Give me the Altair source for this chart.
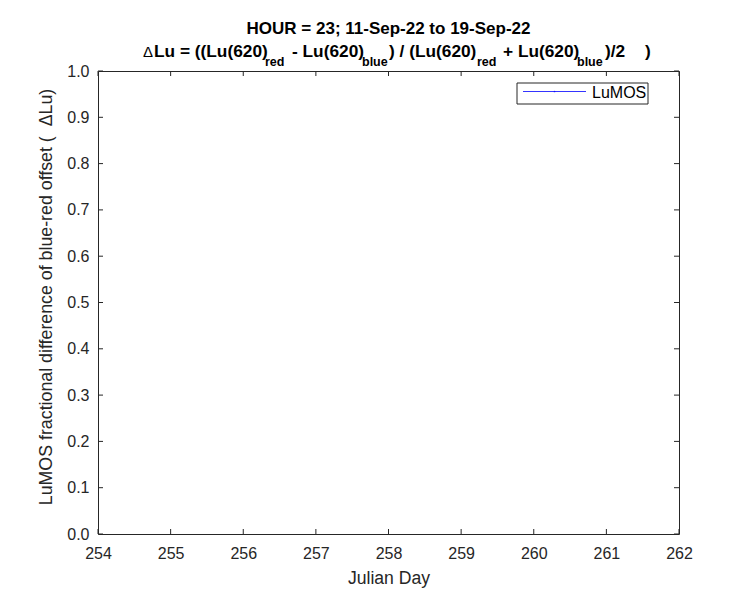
import altair as alt

# Data (the reference shows no valid points for HOUR = 23)
julian_day = []
delta_lu = []

x_ticks = [254, 255, 256, 257, 258, 259, 260, 261, 262]
y_ticks = [0.0, 0.1, 0.2, 0.3, 0.4, 0.5, 0.6, 0.7, 0.8, 0.9, 1.0]

series_name = "LuMOS"
title_line1 = "HOUR = 23; 11-Sep-22 to 19-Sep-22"
x_title = "Julian Day"
y_title = "LuMOS fractional difference of blue-red offset (\u00a0\u00a0\u0394Lu)"

FONT = "Liberation Sans, Arial, Helvetica, sans-serif"
INK = "#262626"
W, H = 581, 463

xs = alt.Scale(domain=[254, 262], nice=False, zero=False)
ys = alt.Scale(domain=[0, 1], nice=False, zero=False)

rows = [{"julian_day": a, "delta_lu": b} for a, b in zip(julian_day, delta_lu)]

main = alt.Chart(alt.Data(values=rows)).mark_line(
    color="#0000ff", strokeWidth=0.8, point=alt.OverlayMarkDef(color="#0000ff", size=4)
).encode(
    x=alt.X("julian_day:Q", scale=xs,
            axis=alt.Axis(title=x_title, values=x_ticks, format="d", labelPadding=11,
                          labelFlush=False,
                          titleY=44, titleBaseline="middle", titleFontSize=17.6,
                          titleFontWeight="normal")),
    y=alt.Y("delta_lu:Q", scale=ys,
            axis=alt.Axis(title=y_title, values=y_ticks, format=".1f", labelPadding=9,
                          labelFlush=False,
                          titleX=-52, titleY=H / 2 - 6, titleBaseline="middle", titleAngle=270,
                          titleAlign="center", titleFontSize=17.8, titleFontWeight="normal")),
)

xt = alt.Data(values=[{"julian_day": v} for v in x_ticks])
yt = alt.Data(values=[{"delta_lu": v} for v in y_ticks])

tick_b = alt.Chart(xt).mark_rule(color=INK, strokeWidth=1).encode(
    x=alt.X("julian_day:Q", scale=xs), y=alt.value(H), y2=alt.value(H - 5))
tick_t = alt.Chart(xt).mark_rule(color=INK, strokeWidth=1).encode(
    x=alt.X("julian_day:Q", scale=xs), y=alt.value(0), y2=alt.value(5))
tick_l = alt.Chart(yt).mark_rule(color=INK, strokeWidth=1).encode(
    y=alt.Y("delta_lu:Q", scale=ys), x=alt.value(0), x2=alt.value(5))
tick_r = alt.Chart(yt).mark_rule(color=INK, strokeWidth=1).encode(
    y=alt.Y("delta_lu:Q", scale=ys), x=alt.value(W), x2=alt.value(W - 5))

one = alt.Data(values=[{}])


def txt(s, x, y, size=17.3, bold=True, align="left", baseline="alphabetic"):
    return alt.Chart(one).mark_text(
        text=s, font=FONT, fontSize=size, fontWeight="bold" if bold else "normal",
        color="#000000", align=align, baseline=baseline,
    ).encode(x=alt.value(x), y=alt.value(y))


# Title line 1 and line 2 with subscripts
BL = -14
SB = -5
SUB = 12.5
titles = [
    txt(title_line1, W / 2, -37, size=17, align="center"),
    txt("\u0394", 45, BL, size=15, bold=False),
    txt("Lu = ((Lu(620)", 56, BL),
    txt("red", 167, SB, size=SUB),
    txt("- Lu(620)", 194, BL),
    txt("blue", 264, SB, size=SUB),
    txt(") / (Lu(620)", 291, BL),
    txt("red", 379, SB, size=SUB),
    txt("+ Lu(620)", 405, BL),
    txt("blue", 479, SB, size=SUB),
    txt(")/2", 507, BL),
    txt(")", 547, BL),
]

# Legend
leg_box = alt.Chart(one).mark_rect(fill="white", stroke=INK, strokeWidth=1).encode(
    x=alt.value(419), x2=alt.value(550), y=alt.value(12), y2=alt.value(33))
leg_line = alt.Chart(one).mark_rule(color="#0000ff", strokeWidth=0.8).encode(
    x=alt.value(425), x2=alt.value(488), y=alt.value(20.5))
leg_dot = alt.Chart(one).mark_point(color="#0000ff", filled=True, size=3).encode(
    x=alt.value(456.5), y=alt.value(20.5))
leg_txt = txt(series_name, 494, 21.5, size=16, bold=False, baseline="middle")

chart = alt.layer(
    main, tick_b, tick_t, tick_l, tick_r, *titles, leg_box, leg_line, leg_dot, leg_txt
).properties(
    width=W, height=H,
    autosize=alt.AutoSizeParams(type="none"),
    padding={"left": 90, "top": 63, "right": 60, "bottom": 60},
    background="white",
).configure_view(stroke=INK, strokeWidth=1).configure_axis(
    grid=False, domain=False, ticks=False, labelFont=FONT, titleFont=FONT,
    labelFontSize=16, labelColor=INK, titleColor=INK,
)

chart.save("out.html", embed_options={"renderer": "svg", "actions": False})
